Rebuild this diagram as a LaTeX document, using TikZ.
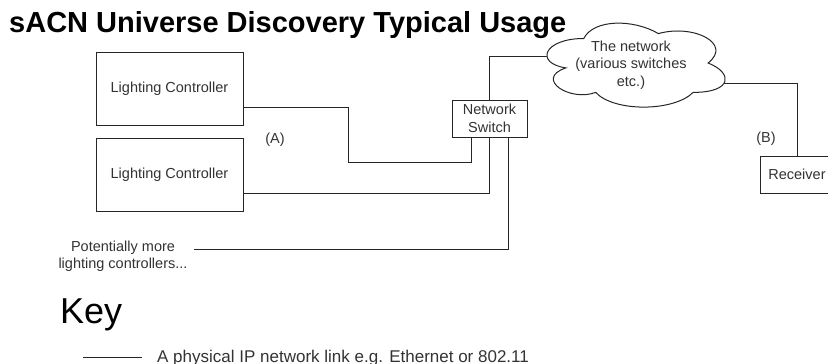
\documentclass[tikz,border=0pt]{standalone}
\usepackage{fontspec}
\setmainfont{Liberation Sans}
\begin{document}
\begin{tikzpicture}[x=1pt,y=-1pt,
  lbl/.style={font=\fontsize{14.5}{17.5}\selectfont, text=black!80, align=center, inner sep=0pt},
  box/.style={draw=black!85, line width=1pt, fill=white, inner sep=0pt, lbl},
  link/.style={draw=black!85, line width=1pt}]
\clip (0,0) rectangle (828,364);
\useasboundingbox (0,0) rectangle (828,364);
% title
\node[anchor=base west, inner sep=0pt, font=\fontsize{29}{34}\selectfont\bfseries] (title) at (9,32) {sACN Universe Discovery Typical Usage};
% boxes
\node[box, minimum width=147pt, minimum height=73pt] (lc1) at (169.5,88.5) {Lighting Controller};
\node[box, minimum width=147pt, minimum height=73pt] (lc2) at (169.5,174.5) {Lighting Controller};
\node[box, minimum width=75pt, minimum height=37pt] (sw) at (489.5,118.5) {Network\\Switch};
\node[box, minimum width=74pt, minimum height=37pt] (rcv) at (797,174.5) {Receiver};
\node[lbl] (more) at (123,256) {Potentially more\\lighting controllers...};
\node[lbl] (labA) at (275,140) {(A)};
\node[lbl] (labB) at (766,139) {(B)};
\coordinate (moreend) at (194,249);
\coordinate (cloudL) at (560,56);
\coordinate (cloudR) at (715,83);
% connectors
\draw[link] ([yshift=-18.5pt]lc1.east) -| (348,162) -| ([xshift=-18.5pt]sw.south);
\draw[link] ([yshift=-18.5pt]lc2.east) -| (sw.south);
\draw[link] (moreend) -| ([xshift=18.5pt]sw.south);
\draw[link] (sw.north) |- (cloudL);
\draw[link] (cloudR) -| (rcv.north);
% cloud
\draw[line width=1pt, draw=black!85, fill=white]
 (583.75,38.5) .. controls (543.95,38.5) and (534,63) .. (565.84,67.9)
 .. controls (534,78.68) and (569.82,102.2) .. (595.69,92.4)
 .. controls (613.6,112) and (673.3,112) .. (693.2,92.4)
 .. controls (733,92.4) and (733,72.8) .. (708.125,63)
 .. controls (733,43.4) and (693.2,23.8) .. (658.375,33.6)
 .. controls (633.5,18.9) and (593.7,18.9) .. (583.75,38.5) -- cycle;
\node[lbl] (cloud) at (631,65) {The network\\(various switches\\etc.)};
% key
\node[anchor=base west, inner sep=0pt, font=\fontsize{36}{40}\selectfont] (key) at (60,323) {Key};
\coordinate (keyA) at (83,357);
\coordinate (keyB) at (142,357);
\draw[link] (keyA) -- (keyB);
\node[anchor=base west, inner sep=0pt, font=\fontsize{17}{20}\selectfont, text=black!80] (keytext) at (157,362) {A physical IP network link e.g. Ethernet or 802.11};
\end{tikzpicture}
\end{document}
